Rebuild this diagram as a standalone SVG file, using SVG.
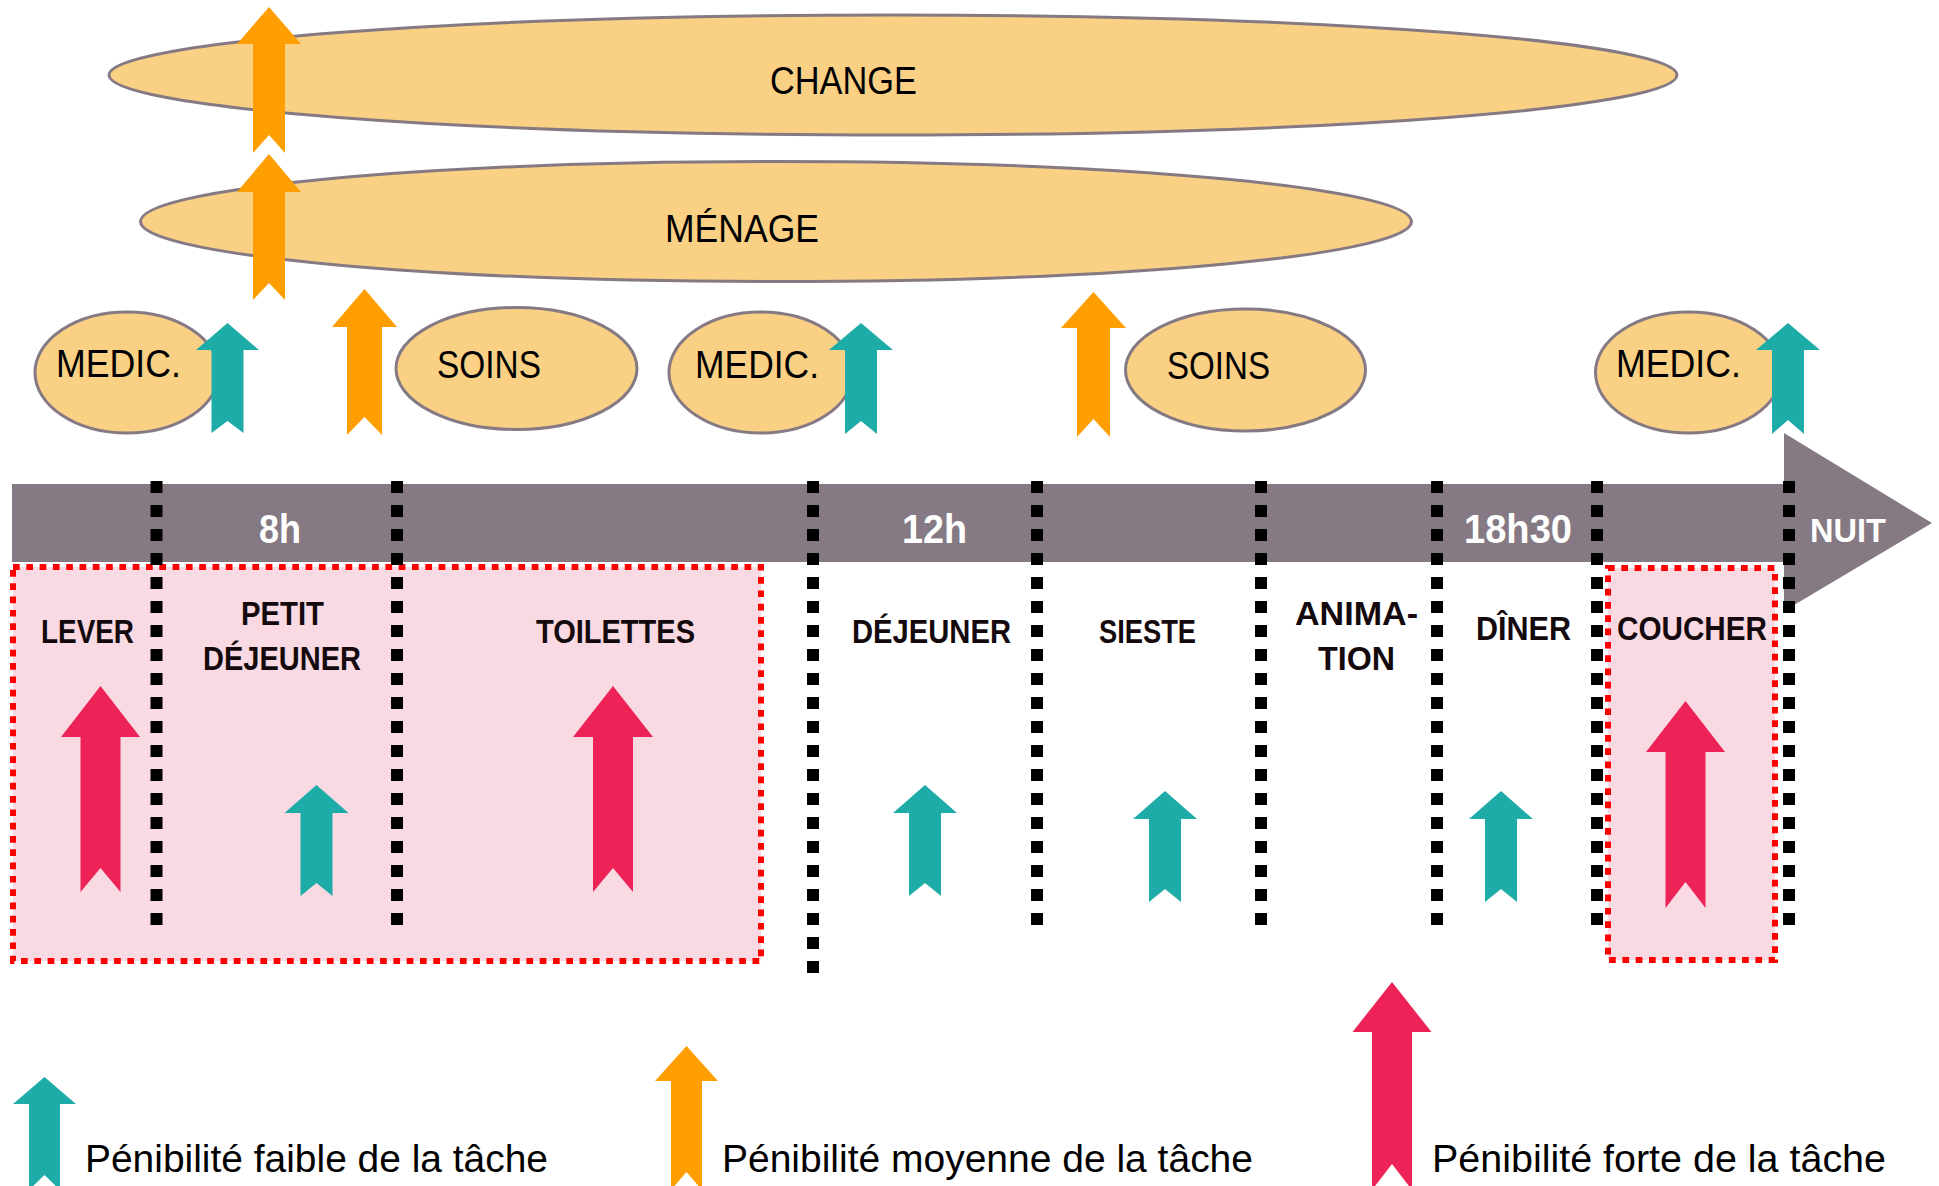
<svg xmlns="http://www.w3.org/2000/svg" width="1939" height="1186" viewBox="0 0 1939 1186">
  <style>
    .task { fill: #FAD085; stroke: #857A84; stroke-width: 3; }
    .lbl { font-family: 'Liberation Sans Narrow', 'Liberation Sans', Arial, sans-serif; fill: #000; }
    .big { font-size: 39px; }
    .hour { font-size: 41px; font-weight: bold; fill: #fff; }
    .act { font-size: 33.5px; font-weight: bold; fill: #140a0e; }
    .leg { font-size: 38px; }
    .sep { stroke: #000; stroke-width: 12; stroke-dasharray: 12 12; fill: none; }
    .zone { fill: #F9D9E2; stroke: #FF0000; stroke-width: 6; stroke-dasharray: 6.7 6.6; }
    .low { fill: #1DACA8; }
    .mid { fill: #FE9E01; }
    .high { fill: #ED2358; }
  </style>

  <!-- high-strain zones (drawn under everything else) -->
  <g id="zone-morning">
    <rect class="zone" x="13" y="567" width="748" height="394"/>
  </g>
  <g id="zone-bedtime">
    <rect class="zone" x="1608" y="568" width="167" height="392"/>
  </g>

  <!-- timeline arrow -->
  <g id="timeline">
    <path d="M12,484 H1784 V433 L1932,523 L1784,611 V562 H12 Z" fill="#857A83"/>
    <text class="lbl hour" x="259" y="543" textLength="42" lengthAdjust="spacingAndGlyphs">8h</text>
    <text class="lbl hour" x="902" y="543" textLength="65" lengthAdjust="spacingAndGlyphs">12h</text>
    <text class="lbl hour" x="1464" y="543" textLength="108" lengthAdjust="spacingAndGlyphs">18h30</text>
    <text class="lbl hour" x="1810" y="542" style="font-size:34px" textLength="76" lengthAdjust="spacingAndGlyphs">NUIT</text>
  </g>

  <!-- period separators -->
  <g id="separators">
    <line class="sep" x1="156.5" y1="481" x2="156.5" y2="925"/>
    <line class="sep" x1="397" y1="481" x2="397" y2="925"/>
    <line class="sep" x1="813" y1="481" x2="813" y2="973"/>
    <line class="sep" x1="1037" y1="481" x2="1037" y2="925"/>
    <line class="sep" x1="1261" y1="481" x2="1261" y2="925"/>
    <line class="sep" x1="1437" y1="481" x2="1437" y2="925"/>
    <line class="sep" x1="1597" y1="481" x2="1597" y2="925"/>
    <line class="sep" x1="1789" y1="481" x2="1789" y2="925"/>
  </g>

  <!-- period labels -->
  <g id="periods">
    <text class="lbl act" x="41" y="643" textLength="93" lengthAdjust="spacingAndGlyphs">LEVER</text>
    <text class="lbl act" x="241" y="625" textLength="83" lengthAdjust="spacingAndGlyphs">PETIT</text>
    <text class="lbl act" x="203" y="670" textLength="158" lengthAdjust="spacingAndGlyphs">DÉJEUNER</text>
    <text class="lbl act" x="536" y="643" textLength="159" lengthAdjust="spacingAndGlyphs">TOILETTES</text>
    <text class="lbl act" x="852" y="643" textLength="159" lengthAdjust="spacingAndGlyphs">DÉJEUNER</text>
    <text class="lbl act" x="1099" y="643" textLength="97" lengthAdjust="spacingAndGlyphs">SIESTE</text>
    <text class="lbl act" x="1295" y="625" textLength="123" lengthAdjust="spacingAndGlyphs">ANIMA-</text>
    <text class="lbl act" x="1318" y="670" textLength="77" lengthAdjust="spacingAndGlyphs">TION</text>
    <text class="lbl act" x="1476" y="640" textLength="95" lengthAdjust="spacingAndGlyphs">DÎNER</text>
    <text class="lbl act" x="1617" y="640" textLength="150" lengthAdjust="spacingAndGlyphs">COUCHER</text>
  </g>

  <!-- recurring tasks -->
  <g id="change">
    <ellipse class="task" cx="893" cy="75" rx="784" ry="60"/>
    <text class="lbl big" x="770" y="94" textLength="147" lengthAdjust="spacingAndGlyphs">CHANGE</text>
  </g>
  <g id="menage">
    <ellipse class="task" cx="776" cy="221.5" rx="635.5" ry="60"/>
    <text class="lbl big" x="665" y="242" textLength="154" lengthAdjust="spacingAndGlyphs">MÉNAGE</text>
  </g>
  <g id="medic-morning">
    <ellipse class="task" cx="127" cy="372.5" rx="92" ry="60.5"/>
    <text class="lbl big" x="56" y="377" textLength="125" lengthAdjust="spacingAndGlyphs">MEDIC.</text>
  </g>
  <g id="soins-morning">
    <ellipse class="task" cx="516.5" cy="368.5" rx="120.5" ry="61"/>
    <text class="lbl big" x="437" y="378" textLength="104" lengthAdjust="spacingAndGlyphs">SOINS</text>
  </g>
  <g id="medic-noon">
    <ellipse class="task" cx="761" cy="372.5" rx="92" ry="60.5"/>
    <text class="lbl big" x="695" y="378" textLength="124" lengthAdjust="spacingAndGlyphs">MEDIC.</text>
  </g>
  <g id="soins-afternoon">
    <ellipse class="task" cx="1245.5" cy="370" rx="120" ry="61"/>
    <text class="lbl big" x="1167" y="379" textLength="103" lengthAdjust="spacingAndGlyphs">SOINS</text>
  </g>
  <g id="medic-evening">
    <ellipse class="task" cx="1688.5" cy="372.5" rx="93" ry="60.5"/>
    <text class="lbl big" x="1616" y="377" textLength="125" lengthAdjust="spacingAndGlyphs">MEDIC.</text>
  </g>

  <!-- strain indicators: notched up-arrows -->
  <g id="strain-arrows">
    <!-- medium -->
    <polygon class="mid" points="269,7 301,44 285,44 285,153 269,135 253,153 253,44 237,44"/>
    <polygon class="mid" points="269,154 301,192 285,192 285,300 269,283 253,300 253,192 237,192"/>
    <polygon class="mid" points="364.5,289 397,327 382,327 382,435 364.5,417 347,435 347,327 332,327"/>
    <polygon class="mid" points="1093.5,292 1126,328 1110,328 1110,437 1093.5,419 1077,437 1077,328 1061,328"/>
    <!-- low -->
    <polygon class="low" points="227.5,323 259,350 243.5,350 243.5,433 227.5,421 211.5,433 211.5,350 196,350"/>
    <polygon class="low" points="861,323 893,350 877,350 877,434 861,421 845,434 845,350 829,350"/>
    <polygon class="low" points="1788,323 1820,350 1804,350 1804,434 1788,420 1772,434 1772,350 1756,350"/>
    <polygon class="low" points="316.5,785 348.5,813 332.5,813 332.5,896 316.5,883 300.5,896 300.5,813 284.5,813"/>
    <polygon class="low" points="925,785 957,813 941,813 941,896 925,883 909,896 909,813 893,813"/>
    <polygon class="low" points="1165,791 1197,819 1181,819 1181,902 1165,889 1149,902 1149,819 1133,819"/>
    <polygon class="low" points="1501,791 1533,819 1517,819 1517,902 1501,889 1485,902 1485,819 1469,819"/>
    <!-- high -->
    <polygon class="high" points="100.5,686 140,737 120.5,737 120.5,892 100.5,868 80.5,892 80.5,737 61,737"/>
    <polygon class="high" points="613,686 653,737 633,737 633,892 613,868 593,892 593,737 573,737"/>
    <polygon class="high" points="1685.5,701 1725,752 1705.5,752 1705.5,908 1685.5,882 1665.5,908 1665.5,752 1646,752"/>
  </g>

  <!-- legend -->
  <g id="legend">
    <polygon class="low" points="44.5,1077 76,1104 60,1104 60,1190 44.5,1175 29,1190 29,1104 13,1104"/>
    <text class="lbl leg" x="85" y="1172" textLength="463" lengthAdjust="spacingAndGlyphs">Pénibilité faible de la tâche</text>
    <polygon class="mid" points="686.5,1046 718,1081 702,1081 702,1190 686.5,1172 671,1190 671,1081 655,1081"/>
    <text class="lbl leg" x="722" y="1172" textLength="531" lengthAdjust="spacingAndGlyphs">Pénibilité moyenne de la tâche</text>
    <polygon class="high" points="1392,982 1431.5,1032 1412,1032 1412,1190 1392,1164 1372,1190 1372,1032 1352.5,1032"/>
    <text class="lbl leg" x="1432" y="1172" textLength="454" lengthAdjust="spacingAndGlyphs">Pénibilité forte de la tâche</text>
  </g>
</svg>
